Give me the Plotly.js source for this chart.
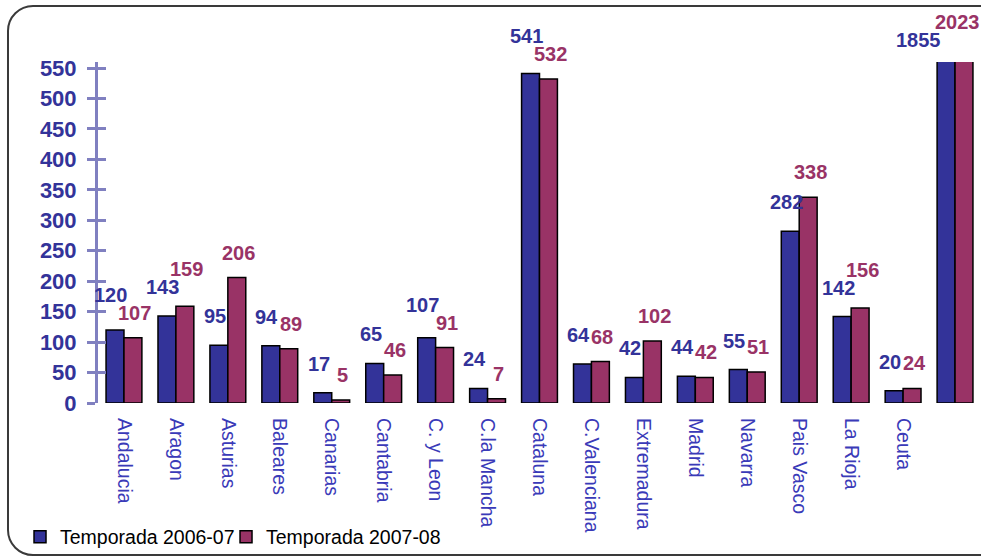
<!DOCTYPE html>
<html>
<head>
<meta charset="utf-8">
<script src="https://cdn.plot.ly/plotly-3.0.1.min.js"></script>
<style>
  html, body { margin: 0; padding: 0; background: #fff; overflow: hidden; }
  #wrap { position: relative; width: 981px; height: 559px; overflow: hidden; }
  #chart { position: absolute; left: 0; top: 0; width: 981px; height: 559px; }
  #frame { position: absolute; left: 0; top: 0; pointer-events: none; }
</style>
</head>
<body>
<div id="wrap">
  <div id="chart"></div>
  <svg id="frame" width="981" height="559" viewBox="0 0 981 559">
    <path d="M 1100 6 L 33 6 A 25 25 0 0 0 8 31 L 8 530 A 25 25 0 0 0 33 555 L 1100 555" fill="none" stroke="#3a3a3a" stroke-width="2"/>
  </svg>
</div>
<script>
const categories = ['Andalucia','Aragon','Asturias','Baleares','Canarias','Cantabria','C. y Leon','C.la Mancha','Cataluna','C.Valenciana','Extremadura','Madrid','Navarra','Pais Vasco','La Rioja','Ceuta','Total'];
const tickLabels = ['Andalucia','Aragon','Asturias','Baleares','Canarias','Cantabria','C. y Leon','C.la Mancha','Cataluna','C.Valenciana','Extremadura','Madrid','Navarra','Pais Vasco','La Rioja','Ceuta',''];
const season0607 = [120,143,95,94,17,65,107,24,541,64,42,44,55,282,142,20,1855];
const season0708 = [107,159,206,89,5,46,91,7,532,68,102,42,51,338,156,24,2023];
const seriesNames = ['Temporada 2006-07','Temporada 2007-08'];

const BLUE = '#333399', RED = '#993366';
const YMAX = 560;
const MARGIN = {l: 98, r: 0, t: 62, b: 156, autoexpand: false};
const H = 559;
const LABEL_SIZE = 20;

const traces = [
  {type:'bar', name: seriesNames[0], x: categories, y: season0607, legend:'legend',
   marker:{color: BLUE, line:{color:'#000', width:1.5}}, hoverinfo:'none'},
  {type:'bar', name: seriesNames[1], x: categories, y: season0708, legend:'legend2',
   marker:{color: RED, line:{color:'#000', width:1.5}}, hoverinfo:'none'},
  {type:'scatter', x:[categories[0]], y:[0], yaxis:'y2', mode:'none', showlegend:false, hoverinfo:'none'}
];

// Data labels above each bar, staggered vertically when a pair would collide.
const ppu = (H - MARGIN.t - MARGIN.b) / YMAX;
const annotations = [];
const labelFont = c => ({family:'Liberation Sans, Arial, sans-serif', size:LABEL_SIZE, color:c, weight:'bold'});
const XS_B = -13, XS_R = 11, UP_B = 29, UP_R = 25, MIN_SEP = 18;
categories.forEach((cat, i) => {
  const b = season0607[i], r = season0708[i];
  if (b > YMAX || r > YMAX) {
    annotations.push({x:cat, y:YMAX, xref:'x', yref:'y', text:String(b), showarrow:false,
      xshift:-37, yshift:22, yanchor:'middle', font:labelFont(BLUE)});
    annotations.push({x:cat, y:YMAX, xref:'x', yref:'y', text:String(r), showarrow:false,
      xshift:2, yshift:40, yanchor:'middle', font:labelFont(RED)});
    return;
  }
  let hb = b * ppu + UP_B, hr = r * ppu + UP_R;  // label heights above baseline (px)
  const wb = String(b).length * 0.556 * LABEL_SIZE, wr = String(r).length * 0.556 * LABEL_SIZE;
  const hOverlap = (wb + wr) / 2 > (XS_R - XS_B);
  if (hOverlap && Math.abs(hb - hr) < MIN_SEP) {
    if (hb >= hr) hb = hr + MIN_SEP; else hr = hb + MIN_SEP;
  }
  annotations.push({x:cat, y:b, xref:'x', yref:'y', text:String(b), showarrow:false,
    xshift:XS_B, yshift:hb - b * ppu, yanchor:'middle', font:labelFont(BLUE)});
  annotations.push({x:cat, y:r, xref:'x', yref:'y', text:String(r), showarrow:false,
    xshift:XS_R, yshift:hr - r * ppu, yanchor:'middle', font:labelFont(RED)});
});

const legendFont = {family:'Liberation Sans, Arial, sans-serif', size:19.5, color:'#000'};
const layout = {
  width: 981, height: H,
  margin: MARGIN,
  paper_bgcolor: 'rgba(0,0,0,0)', plot_bgcolor: 'rgba(0,0,0,0)',
  barmode: 'group', bargap: 0.31, bargroupgap: 0,
  showlegend: true,
  legend: {orientation:'h', xref:'container', yref:'container', x: 0.0204, xanchor:'left',
           y: 0.0394, yanchor:'middle', font: legendFont, bgcolor:'rgba(0,0,0,0)'},
  legend2: {orientation:'h', xref:'container', yref:'container', x: 0.2304, xanchor:'left',
           y: 0.0394, yanchor:'middle', font: legendFont, bgcolor:'rgba(0,0,0,0)'},
  xaxis: {type:'category', tickmode:'array', tickvals: categories, ticktext: tickLabels,
          range:[-0.5, 16.5], domain:[0,1],
          tickangle: 90, ticks:'', showline:false, showgrid:false, zeroline:false,
          ticklabelstandoff: 14,
          tickfont:{family:'Liberation Sans, Arial, sans-serif', size:19.5, color:'#3a3ab8'}},
  yaxis: {range:[0, YMAX], dtick:50, tick0:0, showgrid:false, zeroline:false,
          showline:true, linecolor:'#8080c0', linewidth:3,
          ticks:'outside', ticklen:8, tickwidth:3, tickcolor:'#8080c0',
          ticklabelstandoff: 6,
          tickfont:{family:'Liberation Sans, Arial, sans-serif', size:22, color: BLUE, weight:'bold'}},
  yaxis2: {overlaying:'y', range:[0, YMAX], dtick:50, tick0:0, showgrid:false, zeroline:false,
           showline:false, ticks:'inside', ticklen:8, tickwidth:3, tickcolor:'#8080c0',
           showticklabels:false, side:'left'},
  annotations: annotations
};

Plotly.newPlot('chart', traces, layout, {staticPlot:true, displayModeBar:false});
</script>
</body>
</html>
